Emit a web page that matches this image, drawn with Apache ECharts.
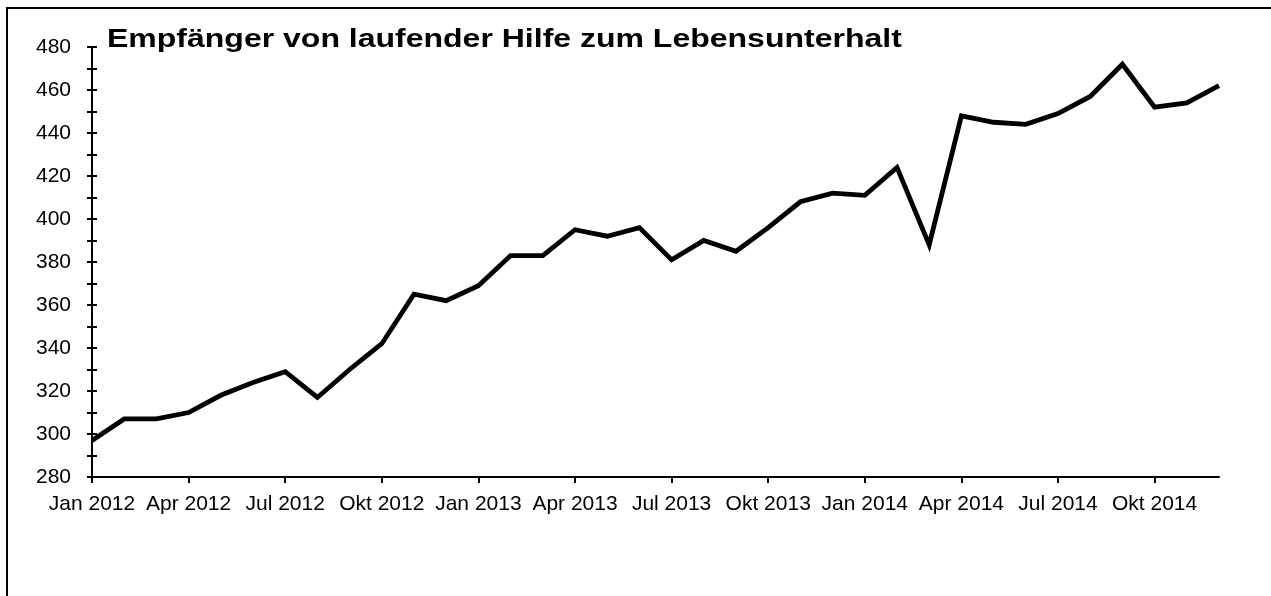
<!DOCTYPE html>
<html>
<head>
<meta charset="utf-8">
<script src="https://cdn.jsdelivr.net/npm/echarts@6/dist/echarts.min.js"></script>
<style>
html,body{margin:0;padding:0;background:#fff;}
#chart{width:1271px;height:596px;}
</style>
</head>
<body>
<div id="chart"></div>
<script>
const titleText = 'Empfänger von laufender Hilfe zum Lebensunterhalt';
const months = ['Jan','Feb','Mrz','Apr','Mai','Jun','Jul','Aug','Sep','Okt','Nov','Dez'];
const years = [2012, 2013, 2014];
const categories = [];
years.forEach(y => months.forEach(m => categories.push(m + ' ' + y)));
const values = [
  297, 307, 307, 310, 318, 324, 329, 317, 330, 342, 365, 362,
  369, 383, 383, 395, 392, 396, 381, 390, 385, 396, 408, 412,
  411, 424, 388, 448, 445, 444, 449, 457, 472, 452, 454, 462
];
const yMin = 280, yMax = 480, yStep = 20;

const font = 'Liberation Sans, Arial, sans-serif';
const chart = echarts.init(document.getElementById('chart'), null, {renderer: 'canvas'});
chart.setOption({
  animation: false,
  backgroundColor: '#fff',
  graphic: [{
    type: 'rect',
    shape: {x: 7, y: 8, width: 1400, height: 800},
    style: {fill: 'none', stroke: '#000', lineWidth: 2},
    silent: true,
    z: -1
  }, {
    type: 'text',
    x: 107,
    y: 28,
    scaleX: 1.28,
    scaleY: 1,
    silent: true,
    style: {
      text: titleText,
      font: 'bold 25px Liberation Sans, Arial, sans-serif',
      fill: '#000',
      verticalAlign: 'top',
      align: 'left'
    }
  }],
  grid: {left: 92, right: 52, top: 47, bottom: 119, containLabel: false},
  xAxis: {
    type: 'category',
    data: categories,
    boundaryGap: false,
    axisLine: {lineStyle: {color: '#000', width: 2}},
    axisTick: {interval: 2, length: 6, lineStyle: {color: '#000', width: 2}},
    axisLabel: {interval: 2, margin: 17, color: '#000', fontFamily: font, fontSize: 21},
    splitLine: {show: false}
  },
  yAxis: [{
    type: 'value',
    min: yMin, max: yMax, interval: yStep,
    axisLine: {show: true, lineStyle: {color: '#000', width: 2}},
    axisTick: {show: true, length: 5, lineStyle: {color: '#000', width: 2}},
    minorTick: {show: true, splitNumber: 2, length: 5, lineStyle: {color: '#000', width: 2}},
    axisLabel: {margin: 21, color: '#000', fontFamily: font, fontSize: 21},
    splitLine: {show: false}
  }, {
    type: 'value',
    position: 'left',
    min: yMin, max: yMax, interval: yStep,
    axisLine: {show: false},
    axisTick: {show: true, inside: true, length: 5, lineStyle: {color: '#000', width: 2}},
    minorTick: {show: true, splitNumber: 2, length: 5, lineStyle: {color: '#000', width: 2}},
    axisLabel: {show: false},
    splitLine: {show: false}
  }],
  series: [{
    type: 'line',
    data: values,
    yAxisIndex: 0,
    showSymbol: false,
    symbol: 'none',
    lineStyle: {color: '#000', width: 4.8, join: 'miter'},
    z: 3
  }]
});
</script>
</body>
</html>
